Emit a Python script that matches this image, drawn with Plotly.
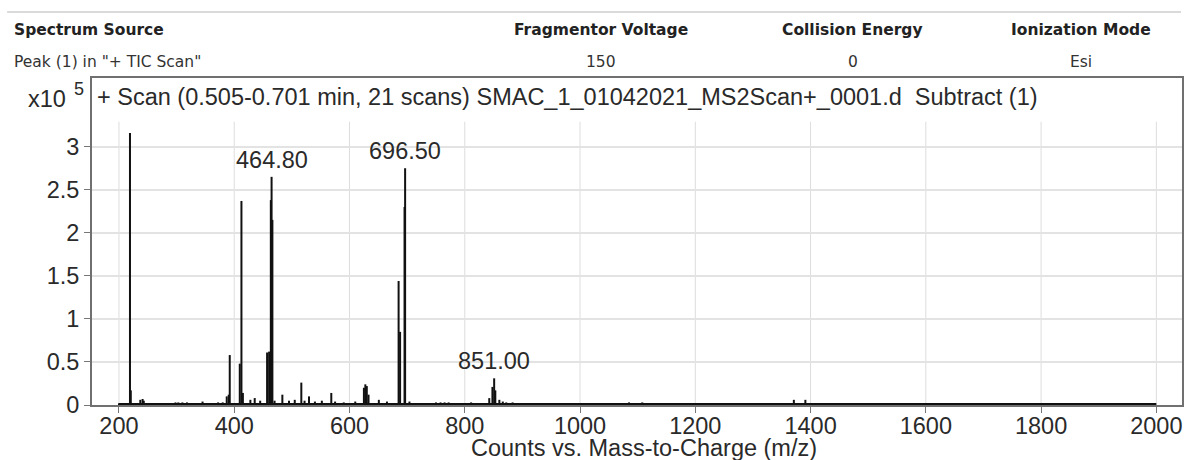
import plotly.graph_objects as go

# ---------------- data ----------------
# peak centres (m/z) and intensities (x10^5 counts)
peak_mz = [200, 219.1, 220.5, 237, 241, 243, 298, 303, 310, 318, 345, 362, 372, 380, 387,
           390.5, 392.2, 409.6, 412.5, 415, 428, 435.5, 445, 457.0, 460.5, 463.5, 464.8, 466.2,
           470, 483.5, 495, 505, 516.4, 522, 529.7, 540, 552, 568.4, 575, 590, 610,
           625, 627.5, 630, 633, 650.9, 665, 685.2, 687.8, 695.5, 696.5, 704,
           750, 758, 765, 772, 780, 811, 842.5, 848, 851.0, 853, 860, 866, 872, 883,
           889, 923, 1007, 1085, 1108, 1371, 1391]
peak_int = [0.02, 3.16, 0.17, 0.06, 0.07, 0.05, 0.03, 0.03, 0.03, 0.03, 0.04, 0.02, 0.03, 0.03, 0.10,
            0.12, 0.58, 0.48, 2.37, 0.14, 0.06, 0.08, 0.05, 0.61, 0.62, 2.38, 2.65, 2.15,
            0.05, 0.12, 0.05, 0.06, 0.26, 0.05, 0.10, 0.04, 0.05, 0.14, 0.04, 0.03, 0.04,
            0.20, 0.24, 0.22, 0.12, 0.06, 0.04, 1.44, 0.85, 2.30, 2.75, 0.04,
            0.03, 0.03, 0.03, 0.03, 0.02, 0.03, 0.08, 0.21, 0.31, 0.17, 0.06, 0.04, 0.03, 0.03,
            0.02, 0.02, 0.02, 0.03, 0.03, 0.06, 0.06]
baseline_mz = [200, 2000]
baseline_int = [0.01, 0.01]

label_mz = [464.80, 696.50, 851.00]
label_text = ["464.80", "696.50", "851.00"]

x_ticks = [200, 400, 600, 800, 1000, 1200, 1400, 1600, 1800, 2000]
y_ticks = [0, 0.5, 1, 1.5, 2, 2.5, 3]
y_tick_text = ["0", "0.5", "1", "1.5", "2", "2.5", "3"]

header_titles = ["Fragmentor Voltage", "Collision Energy", "Ionization Mode"]
header_values = ["150", "0", "Esi"]
source_title = "Spectrum Source"
source_value = 'Peak (1) in "+ TIC Scan"'
plot_title = "+ Scan (0.505-0.701 min, 21 scans) SMAC_1_01042021_MS2Scan+_0001.d  Subtract (1)"
x_title = "Counts vs. Mass-to-Charge (m/z)"

# ---------------- layout geometry ----------------
W, H = 1190, 460
L, R, T, B = 92, 6, 78, 55
PW, PH = W - L - R, H - T - B


def px(xp):
    return (xp - L) / PW


def py(yp):
    return (H - B - yp) / PH


# ---------------- traces ----------------
sx, sy = [], []
for m, h in zip(peak_mz, peak_int):
    sx += [m, m, None]
    sy += [0, h, None]

fig = go.Figure()
fig.add_trace(go.Scatter(x=baseline_mz, y=baseline_int, mode="lines",
                         line=dict(color="#111111", width=2.2), hoverinfo="skip"))
fig.add_trace(go.Scatter(x=sx, y=sy, mode="lines",
                         line=dict(color="#111111", width=2), hoverinfo="skip"))

shapes = []
for xv in x_ticks:
    shapes.append(dict(type="line", xref="x", yref="y", x0=xv, x1=xv, y0=0, y1=3.29,
                       line=dict(color="#dddddd", width=1), layer="below"))
# header rule
shapes.append(dict(type="line", xref="paper", yref="paper", x0=px(7), x1=px(1183),
                   y0=py(12), y1=py(12), line=dict(color="#b5b5b5", width=1)))

TXT = "#2a2a2a"
FS = 23.5
ann = []
hdr_font = "DejaVu Sans"
ann.append(dict(x=px(12), y=py(30), xref="paper", yref="paper", xanchor="left", yanchor="middle",
                text="<b>%s</b>" % source_title, showarrow=False,
                font=dict(family=hdr_font, size=15.5, color="#222")))
ann.append(dict(x=px(12), y=py(62), xref="paper", yref="paper", xanchor="left", yanchor="middle",
                text=source_value, showarrow=False,
                font=dict(family=hdr_font, size=15.5, color="#333")))
for cx, t, v in zip([602, 854, 1083], header_titles, header_values):
    ann.append(dict(x=px(cx), y=py(30), xref="paper", yref="paper", xanchor="center", yanchor="middle",
                    text="<b>%s</b>" % t, showarrow=False,
                    font=dict(family=hdr_font, size=15.5, color="#222")))
    ann.append(dict(x=px(cx), y=py(62), xref="paper", yref="paper", xanchor="center", yanchor="middle",
                    text=v, showarrow=False,
                    font=dict(family=hdr_font, size=15.5, color="#333")))

ann.append(dict(x=px(95), y=py(97), xref="paper", yref="paper", xanchor="left", yanchor="middle",
                text=plot_title, showarrow=False,
                font=dict(family="Liberation Sans", size=FS, color=TXT)))
ann.append(dict(x=px(68), y=py(99), xref="paper", yref="paper", xanchor="right", yanchor="middle",
                text="x10", showarrow=False,
                font=dict(family="Liberation Sans", size=FS, color=TXT)))
ann.append(dict(x=px(72), y=py(89), xref="paper", yref="paper", xanchor="left", yanchor="middle",
                text="5", showarrow=False,
                font=dict(family="Liberation Sans", size=18, color=TXT)))
ann.append(dict(x=px(645), y=py(448), xref="paper", yref="paper", xanchor="center", yanchor="middle",
                text=x_title, showarrow=False,
                font=dict(family="Liberation Sans", size=FS, color=TXT)))

for m, t in zip(label_mz, label_text):
    h = peak_int[peak_mz.index(m)]
    ann.append(dict(x=m, y=h, xref="x", yref="y", xanchor="center", yanchor="bottom",
                    yshift=2, text=t, showarrow=False,
                    font=dict(family="Liberation Sans", size=FS, color=TXT)))

fig.update_layout(
    width=W, height=H,
    margin=dict(l=L, r=R, t=T, b=B, pad=0),
    paper_bgcolor="white", plot_bgcolor="white",
    showlegend=False,
    shapes=shapes, annotations=ann,
    xaxis=dict(range=[153.2, 2044.5], tickvals=x_ticks, ticks="outside", ticklen=6,
               tickcolor="#777", tickwidth=1, showgrid=False, zeroline=False,
               showline=True, mirror=True, linecolor="#707070", linewidth=2,
               ticklabelstandoff=-7,
               tickfont=dict(family="Liberation Sans", size=FS, color=TXT)),
    yaxis=dict(range=[0, 3.798], tickvals=y_ticks, ticktext=y_tick_text, ticks="outside",
               ticklen=6, tickcolor="#777", tickwidth=1, showgrid=True, gridcolor="#e3e3e3",
               gridwidth=1.5, zeroline=False, showline=True, mirror=True,
               linecolor="#707070", linewidth=2,
               tickfont=dict(family="Liberation Sans", size=FS, color=TXT)),
)

fig.write_html("out.html")
